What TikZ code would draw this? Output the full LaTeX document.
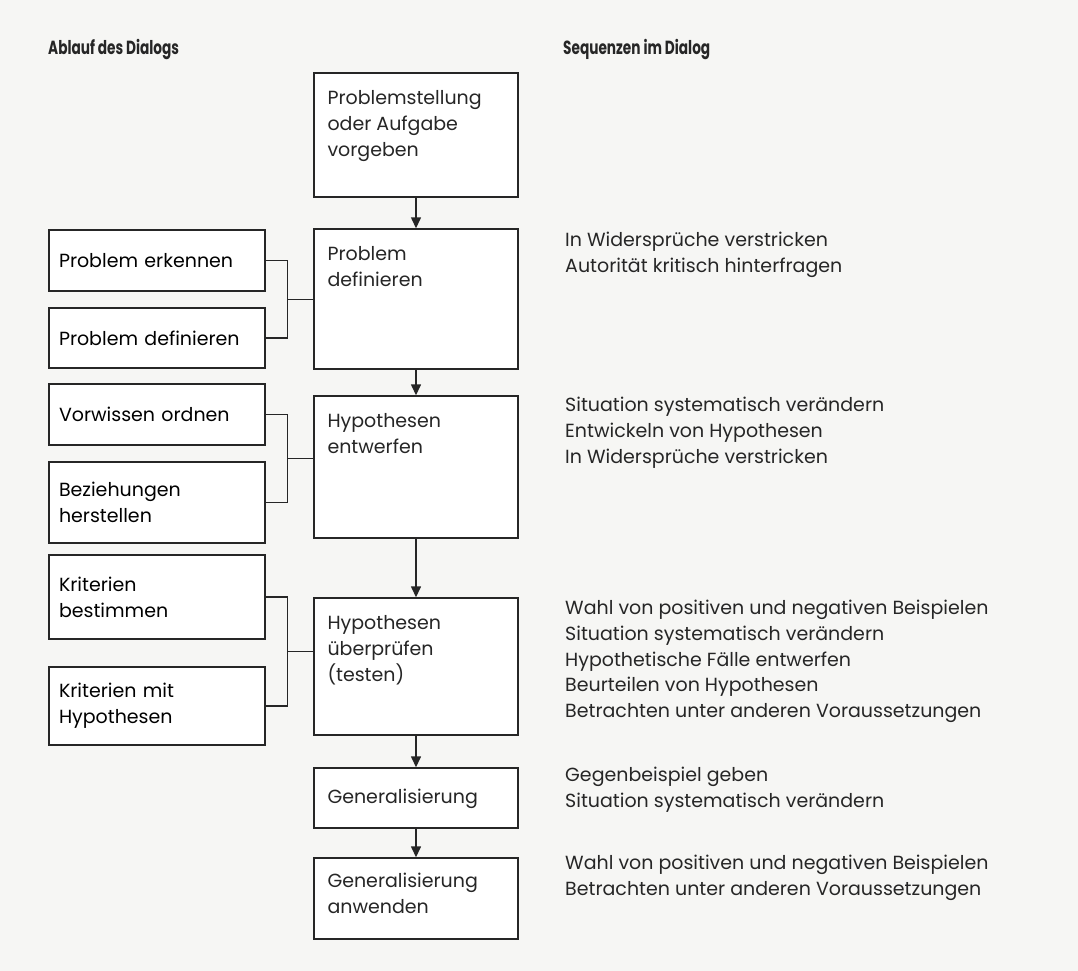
\documentclass[tikz,border=0pt]{standalone}
\usepackage{fontspec}
\setmainfont{Poppins}
\newfontfamily\headfont[FakeStretch=0.72]{Poppins}
\usetikzlibrary{arrows.meta,calc}
\definecolor{paper}{RGB}{246,246,244}
\definecolor{ink}{RGB}{38,38,38}

\tikzset{
    stepbox/.style={draw=ink, line width=1.4pt, fill=white, inner sep=0pt},
    sidebox/.style={stepbox, inner xsep=10pt, text width=196pt, align=left, font=\boxfont},
    steptext/.style={anchor=north west, align=left, inner sep=0pt, text=ink, font=\boxfont, execute at begin node=\strut},
    seqtext/.style={anchor=north west, align=left, inner sep=0pt, text=ink, font=\boxfont, execute at begin node=\strut},
    headtext/.style={anchor=base west, inner sep=0pt, text=ink, font=\headfont\bfseries\fontsize{19}{22}\selectfont},
    flow/.style={draw=ink, line width=1.4pt, -{Triangle[length=11pt,width=10pt]}},
    link/.style={draw=ink, line width=1.4pt}
}
\newcommand{\boxfont}{\fontsize{19}{25.75}\selectfont}

\begin{document}
\begin{tikzpicture}[x=1pt, y=-1pt]
    \fill[paper] (0,0) rectangle (1078,971);
    \useasboundingbox (0,0) rectangle (1078,971);

    % headings
    \node[headtext] (h1) at ( 48,55) {Ablauf des Dialogs};
    \node[headtext] (h2) at (563,55) {Sequenzen im Dialog};

    % main column
    \node[stepbox, minimum width=204, minimum height=124] (b1) at (416,135.0) {};
    \node[stepbox, minimum width=204, minimum height=140] (b2) at (416,299.0) {};
    \node[stepbox, minimum width=204, minimum height=142] (b3) at (416,467.0) {};
    \node[stepbox, minimum width=204, minimum height=137] (b4) at (416,666.5) {};
    \node[stepbox, minimum width=204, minimum height= 60] (b5) at (416,798.0) {};
    \node[stepbox, minimum width=204, minimum height= 81] (b6) at (416,898.5) {};

    \node[steptext] (t1) at ([shift={(14,18)}]b1.north west) {Problemstellung\\oder Aufgabe\\vorgeben};
    \node[steptext] (t2) at ([shift={(14,18)}]b2.north west) {Problem\\definieren};
    \node[steptext] (t3) at ([shift={(14,18)}]b3.north west) {Hypothesen\\entwerfen};
    \node[steptext] (t4) at ([shift={(14,18)}]b4.north west) {Hypothesen\\überprüfen\\(testen)};
    \node[steptext] (t5) at ([shift={(14,18)}]b5.north west) {Generalisierung};
    \node[steptext] (t6) at ([shift={(14,16)}]b6.north west) {Generalisierung\\anwenden};

    \draw[flow] (b1) -- (b2);
    \draw[flow] (b2) -- (b3);
    \draw[flow] (b3) -- (b4);
    \draw[flow] (b4) -- (b5);
    \draw[flow] (b5) -- (b6);

    % left column
    \node[sidebox, minimum height=61] (l1) at (157,260.5) {Problem erkennen};
    \node[sidebox, minimum height=60] (l2) at (157,338.0) {Problem definieren};
    \node[sidebox, minimum height=61] (l3) at (157,414.5) {Vorwissen ordnen};
    \node[sidebox, minimum height=81] (l4) at (157,502.5) {Beziehungen\\herstellen};
    \node[sidebox, minimum height=84] (l5) at (157,597.0) {Kriterien\\bestimmen};
    \node[sidebox, minimum height=78] (l6) at (157,706.0) {Kriterien mit\\Hypothesen};

    \coordinate (j1) at ($(l1.east)!0.5!(l2.east)+(22,0)$);
    \coordinate (j2) at ($(l3.east)!0.5!(l4.east)+(22,0)$);
    \coordinate (j3) at ($(l5.east)!0.5!(l6.east)+(22,0)$);
    \draw[link] (l1.east) -| (j1) |- (l2.east);
    \draw[link] (l3.east) -| (j2) |- (l4.east);
    \draw[link] (l5.east) -| (j3) |- (l6.east);
    \draw[link] (j1) -- (j1 -| b2.west);
    \draw[link] (j2) -- (j2 -| b3.west);
    \draw[link] (j3) -- (j3 -| b4.west);

    % right column
    \node[seqtext] (s2) at (565,232) {In Widersprüche verstricken\\Autorität kritisch hinterfragen};
    \node[seqtext] (s3) at (565,397) {Situation systematisch verändern\\Entwickeln von Hypothesen\\In Widersprüche verstricken};
    \node[seqtext] (s4) at (565,600) {Wahl von positiven und negativen Beispielen\\Situation systematisch verändern\\Hypothetische Fälle entwerfen\\Beurteilen von Hypothesen\\Betrachten unter anderen Voraussetzungen};
    \node[seqtext] (s5) at (565,767) {Gegenbeispiel geben\\Situation systematisch verändern};
    \node[seqtext] (s6) at (565,855) {Wahl von positiven und negativen Beispielen\\Betrachten unter anderen Voraussetzungen};
\end{tikzpicture}
\end{document}
